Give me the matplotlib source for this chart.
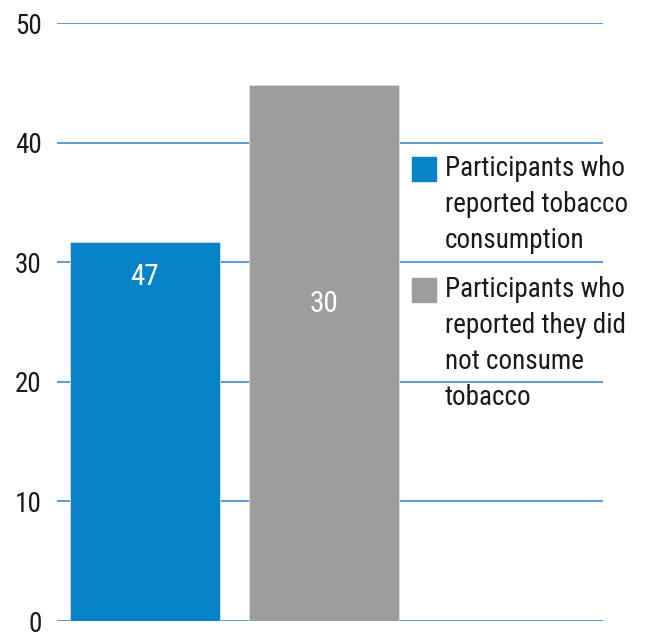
import matplotlib.pyplot as plt
from matplotlib import font_manager as fm
from matplotlib.patches import Rectangle

# data
groups = ["Participants who\nreported tobacco\nconsumption",
          "Participants who\nreported they did\nnot consume\ntobacco"]
values = [31.7, 44.8]
bar_labels = ["47", "30"]
label_drop = [2.9, 18.3]          # how far below the bar top the label sits
colors = ["#0883c8", "#9d9d9c"]
yticks = [0, 10, 20, 30, 40, 50]

# look for a narrow / condensed face, the original uses one
narrow = None
for f in fm.fontManager.ttflist:
    n = f.name.lower()
    if ("narrow" in n or "condensed" in n or "condensed" in str(f.stretch)) \
            and f.style == "normal" and f.weight in (400, "normal", "regular"):
        narrow = f
        if "liberation" in n or "roboto" in n:
            break
if narrow is not None:
    fp = fm.FontProperties(fname=narrow.fname)
    size = 19.5
else:
    fp = fm.FontProperties(family="Liberation Sans")
    size = 16

fig = plt.figure(figsize=(6.5, 6.33), dpi=100)
ax = fig.add_axes([57 / 650, 12 / 633, 546 / 650, 598 / 633])

x = [0, 1]
ax.bar(x, values, width=0.84, color=colors, edgecolor="#dddddd",
       linewidth=0.6, zorder=3)
for xi, v, lab, d in zip(x, values, bar_labels, label_drop):
    ax.text(xi, v - d, lab, color="white", fontproperties=fp, fontsize=size + 1.5,
            ha="center", va="center", zorder=4)

ax.set_xlim(-0.4916, 2.559)
ax.set_ylim(0, 50)
ax.set_yticks(yticks)
ax.set_xticks([])
ax.yaxis.grid(True, color="#5b9bd5", linewidth=1.4, zorder=0)
ax.tick_params(axis="y", length=0, pad=11, colors="#1a1a1a")
for t in ax.get_yticklabels():
    t.set_fontproperties(fp)
    t.set_fontsize(size)
for s in ax.spines.values():
    s.set_visible(False)

# legend drawn by hand (squares + wrapped text); baseline = last line
leg_tops = [157, 278]
text_base = [248, 405]
for top, base, col, txt in zip(leg_tops, text_base, colors, groups):
    fig.patches.append(Rectangle((412 / 650, 1 - (top + 24) / 633),
                                 24 / 650, 24 / 633,
                                 transform=fig.transFigure, color=col))
    fig.text(445 / 650, 1 - base / 633, txt, fontproperties=fp,
             fontsize=size, color="#1a1a1a", va="baseline", ha="left",
             linespacing=1.43)

fig.savefig("out.png", dpi=100)
